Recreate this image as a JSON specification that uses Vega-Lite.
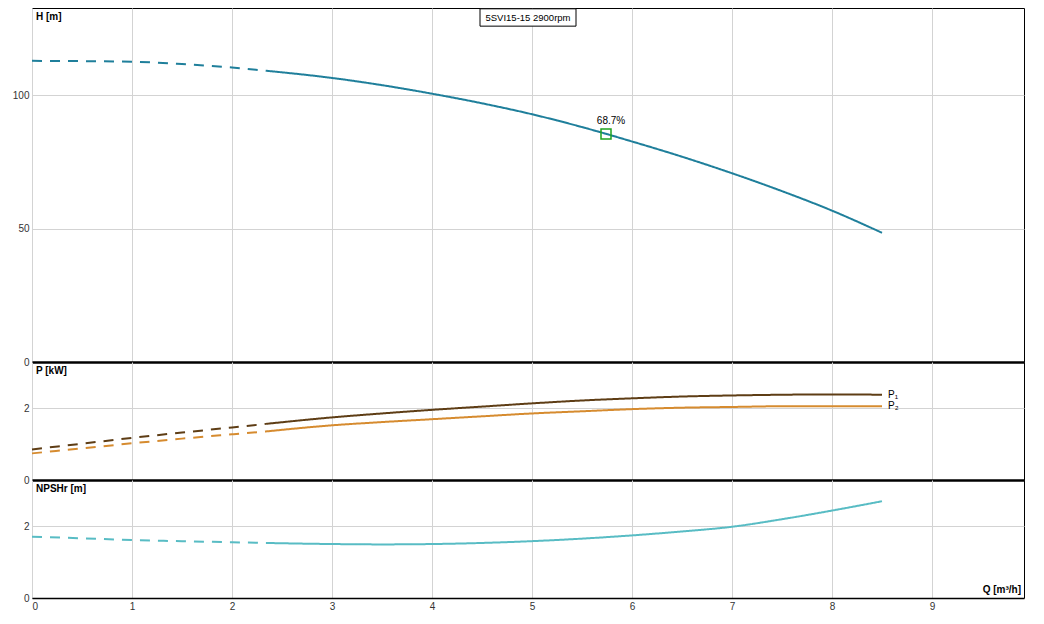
{
  "$schema": "https://vega.github.io/schema/vega-lite/v6.json",
  "padding": {"left": 0, "top": 7, "right": 0, "bottom": 0},
  "background": "white",
  "spacing": 0,
  "bounds": "flush",
  "config": {
    "view": {"stroke": "black", "strokeWidth": 1},
    "axis": {
      "gridColor": "#d3d3d3",
      "gridWidth": 1,
      "labelFont": "Liberation Sans",
      "labelFontSize": 10,
      "labelColor": "#333333",
      "ticks": false,
      "title": null
    },
    "text": {"font": "Liberation Sans", "fontSize": 10, "color": "black"}
  },
  "datasets": {
    "head": [
      {"Q": 0, "H": 112.8, "seg": "dashed"},
      {"Q": 0.5, "H": 112.7, "seg": "dashed"},
      {"Q": 1, "H": 112.5, "seg": "dashed"},
      {"Q": 1.5, "H": 111.6, "seg": "dashed"},
      {"Q": 2, "H": 110.3, "seg": "dashed"},
      {"Q": 2.34, "H": 109.1, "seg": "dashed"},
      {"Q": 2.34, "H": 109.1, "seg": "solid"},
      {"Q": 3, "H": 106.4, "seg": "solid"},
      {"Q": 3.5, "H": 103.7, "seg": "solid"},
      {"Q": 4, "H": 100.5, "seg": "solid"},
      {"Q": 4.5, "H": 96.9, "seg": "solid"},
      {"Q": 5, "H": 92.8, "seg": "solid"},
      {"Q": 5.5, "H": 88.0, "seg": "solid"},
      {"Q": 6, "H": 82.6, "seg": "solid"},
      {"Q": 6.5, "H": 76.9, "seg": "solid"},
      {"Q": 7, "H": 70.7, "seg": "solid"},
      {"Q": 7.5, "H": 64.0, "seg": "solid"},
      {"Q": 8, "H": 56.7, "seg": "solid"},
      {"Q": 8.5, "H": 48.4, "seg": "solid"}
    ],
    "power": [
      {"Q": 0, "P": 0.85, "series": "P1", "seg": "dashed"},
      {"Q": 0.5, "P": 1.01, "series": "P1", "seg": "dashed"},
      {"Q": 1, "P": 1.17, "series": "P1", "seg": "dashed"},
      {"Q": 1.5, "P": 1.32, "series": "P1", "seg": "dashed"},
      {"Q": 2, "P": 1.46, "series": "P1", "seg": "dashed"},
      {"Q": 2.34, "P": 1.56, "series": "P1", "seg": "dashed"},
      {"Q": 2.34, "P": 1.56, "series": "P1", "seg": "solid"},
      {"Q": 3, "P": 1.74, "series": "P1", "seg": "solid"},
      {"Q": 3.5, "P": 1.85, "series": "P1", "seg": "solid"},
      {"Q": 4, "P": 1.95, "series": "P1", "seg": "solid"},
      {"Q": 4.5, "P": 2.04, "series": "P1", "seg": "solid"},
      {"Q": 5, "P": 2.13, "series": "P1", "seg": "solid"},
      {"Q": 5.5, "P": 2.21, "series": "P1", "seg": "solid"},
      {"Q": 6, "P": 2.27, "series": "P1", "seg": "solid"},
      {"Q": 6.5, "P": 2.32, "series": "P1", "seg": "solid"},
      {"Q": 7, "P": 2.35, "series": "P1", "seg": "solid"},
      {"Q": 7.5, "P": 2.37, "series": "P1", "seg": "solid"},
      {"Q": 8, "P": 2.38, "series": "P1", "seg": "solid"},
      {"Q": 8.5, "P": 2.37, "series": "P1", "seg": "solid"},
      {"Q": 0, "P": 0.74, "series": "P2", "seg": "dashed"},
      {"Q": 0.5, "P": 0.88, "series": "P2", "seg": "dashed"},
      {"Q": 1, "P": 1.02, "series": "P2", "seg": "dashed"},
      {"Q": 1.5, "P": 1.15, "series": "P2", "seg": "dashed"},
      {"Q": 2, "P": 1.27, "series": "P2", "seg": "dashed"},
      {"Q": 2.34, "P": 1.35, "series": "P2", "seg": "dashed"},
      {"Q": 2.34, "P": 1.35, "series": "P2", "seg": "solid"},
      {"Q": 3, "P": 1.52, "series": "P2", "seg": "solid"},
      {"Q": 3.5, "P": 1.61, "series": "P2", "seg": "solid"},
      {"Q": 4, "P": 1.69, "series": "P2", "seg": "solid"},
      {"Q": 4.5, "P": 1.77, "series": "P2", "seg": "solid"},
      {"Q": 5, "P": 1.85, "series": "P2", "seg": "solid"},
      {"Q": 5.5, "P": 1.91, "series": "P2", "seg": "solid"},
      {"Q": 6, "P": 1.97, "series": "P2", "seg": "solid"},
      {"Q": 6.5, "P": 2.01, "series": "P2", "seg": "solid"},
      {"Q": 7, "P": 2.03, "series": "P2", "seg": "solid"},
      {"Q": 7.5, "P": 2.05, "series": "P2", "seg": "solid"},
      {"Q": 8, "P": 2.05, "series": "P2", "seg": "solid"},
      {"Q": 8.5, "P": 2.05, "series": "P2", "seg": "solid"}
    ],
    "npsh": [
      {"Q": 0, "N": 1.70, "seg": "dashed"},
      {"Q": 0.5, "N": 1.66, "seg": "dashed"},
      {"Q": 1, "N": 1.61, "seg": "dashed"},
      {"Q": 1.5, "N": 1.58, "seg": "dashed"},
      {"Q": 2, "N": 1.55, "seg": "dashed"},
      {"Q": 2.34, "N": 1.53, "seg": "dashed"},
      {"Q": 2.34, "N": 1.53, "seg": "solid"},
      {"Q": 3, "N": 1.50, "seg": "solid"},
      {"Q": 3.5, "N": 1.49, "seg": "solid"},
      {"Q": 4, "N": 1.50, "seg": "solid"},
      {"Q": 4.5, "N": 1.53, "seg": "solid"},
      {"Q": 5, "N": 1.58, "seg": "solid"},
      {"Q": 5.5, "N": 1.65, "seg": "solid"},
      {"Q": 6, "N": 1.74, "seg": "solid"},
      {"Q": 6.5, "N": 1.85, "seg": "solid"},
      {"Q": 7, "N": 1.98, "seg": "solid"},
      {"Q": 7.5, "N": 2.19, "seg": "solid"},
      {"Q": 8, "N": 2.43, "seg": "solid"},
      {"Q": 8.5, "N": 2.69, "seg": "solid"}
    ],
    "bep": [{"Q": 5.74, "H": 85.4, "eff": "68.7%"}],
    "plabels": [
      {"Q": 8.5, "P": 2.37, "label": "P₁"},
      {"Q": 8.5, "P": 2.05, "label": "P₂"}
    ],
    "hTitle": [{"label": "H [m]"}],
    "pTitle": [{"label": "P [kW]"}],
    "nTitle": [{"label": "NPSHr [m]"}],
    "qTitle": [{"label": "Q [m³/h]"}],
    "pump": [{"label": "5SVI15-15 2900rpm"}]
  },
  "vconcat": [
    {
      "width": 992,
      "height": 354,
      "layer": [
        {
          "data": {"name": "head"},
          "mark": {"type": "line", "strokeWidth": 2, "color": "#1f7f9b", "interpolate": "monotone"},
          "encoding": {
            "x": {
              "field": "Q",
              "type": "quantitative",
              "scale": {"domain": [0, 9.92], "nice": false, "zero": false},
              "axis": {"values": [0, 1, 2, 3, 4, 5, 6, 7, 8, 9], "labels": false, "domain": true, "domainColor": "black", "domainWidth": 2.5}
            },
            "y": {
              "field": "H",
              "type": "quantitative",
              "scale": {"domain": [0, 132.6], "nice": false},
              "axis": {"values": [0, 50, 100], "domain": false, "labelPadding": 3, "minExtent": 31, "maxExtent": 31}
            },
            "strokeDash": {
              "field": "seg",
              "type": "nominal",
              "scale": {"domain": ["dashed", "solid"], "range": [[10, 8], [1, 0]]},
              "legend": null
            }
          }
        },
        {
          "data": {"name": "bep"},
          "mark": {"type": "point", "shape": "square", "size": 100, "filled": false, "color": "#1fa21f", "strokeWidth": 1.5, "opacity": 1},
          "encoding": {"x": {"field": "Q", "type": "quantitative"}, "y": {"field": "H", "type": "quantitative"}}
        },
        {
          "data": {"name": "bep"},
          "mark": {"type": "text", "dx": 5, "dy": -8, "baseline": "bottom", "align": "center"},
          "encoding": {"x": {"field": "Q", "type": "quantitative"}, "y": {"field": "H", "type": "quantitative"}, "text": {"field": "eff"}}
        },
        {
          "data": {"name": "hTitle"},
          "mark": {"type": "text", "align": "left", "baseline": "top", "dx": 4, "dy": 4, "fontWeight": "bold"},
          "encoding": {"x": {"datum": 0}, "y": {"datum": 132.6}, "text": {"field": "label"}}
        },
        {
          "data": {"name": "pump"},
          "mark": {"type": "rect", "fill": "white", "stroke": "black", "strokeWidth": 1},
          "encoding": {"x": {"datum": 4.48}, "x2": {"datum": 5.44}, "y": {"datum": 132.3}, "y2": {"datum": 125.8}}
        },
        {
          "data": {"name": "pump"},
          "mark": {"type": "text", "align": "center", "baseline": "middle", "fontSize": 9.5},
          "encoding": {"x": {"datum": 4.96}, "y": {"datum": 129.0}, "text": {"field": "label"}}
        }
      ]
    },
    {
      "width": 992,
      "height": 118,
      "layer": [
        {
          "data": {"name": "power"},
          "mark": {"type": "line", "strokeWidth": 2, "interpolate": "monotone"},
          "encoding": {
            "x": {
              "field": "Q",
              "type": "quantitative",
              "scale": {"domain": [0, 9.92], "nice": false, "zero": false},
              "axis": {"values": [0, 1, 2, 3, 4, 5, 6, 7, 8, 9], "labels": false, "domain": true, "domainColor": "black", "domainWidth": 2.5}
            },
            "y": {
              "field": "P",
              "type": "quantitative",
              "scale": {"domain": [0, 3.28], "nice": false},
              "axis": {"values": [0, 2], "domain": false, "labelPadding": 3, "minExtent": 31, "maxExtent": 31}
            },
            "color": {
              "field": "series",
              "type": "nominal",
              "scale": {"domain": ["P1", "P2"], "range": ["#5e3d15", "#d68b2f"]},
              "legend": null
            },
            "strokeDash": {
              "field": "seg",
              "type": "nominal",
              "scale": {"domain": ["dashed", "solid"], "range": [[10, 8], [1, 0]]},
              "legend": null
            }
          }
        },
        {
          "data": {"name": "plabels"},
          "mark": {"type": "text", "align": "left", "baseline": "middle", "dx": 6},
          "encoding": {"x": {"field": "Q", "type": "quantitative"}, "y": {"field": "P", "type": "quantitative"}, "text": {"field": "label"}}
        },
        {
          "data": {"name": "pTitle"},
          "mark": {"type": "text", "align": "left", "baseline": "top", "dx": 4, "dy": 4, "fontWeight": "bold"},
          "encoding": {"x": {"datum": 0}, "y": {"datum": 3.28}, "text": {"field": "label"}}
        }
      ]
    },
    {
      "width": 992,
      "height": 118,
      "layer": [
        {
          "data": {"name": "npsh"},
          "mark": {"type": "line", "strokeWidth": 2, "color": "#58bcc4", "interpolate": "monotone"},
          "encoding": {
            "x": {
              "field": "Q",
              "type": "quantitative",
              "scale": {"domain": [0, 9.92], "nice": false, "zero": false},
              "axis": {"values": [0, 1, 2, 3, 4, 5, 6, 7, 8, 9], "format": "d", "labelPadding": 3, "domain": true, "domainColor": "black", "domainWidth": 1.5}
            },
            "y": {
              "field": "N",
              "type": "quantitative",
              "scale": {"domain": [0, 3.28], "nice": false},
              "axis": {"values": [0, 2], "domain": false, "labelPadding": 3, "minExtent": 31, "maxExtent": 31}
            },
            "strokeDash": {
              "field": "seg",
              "type": "nominal",
              "scale": {"domain": ["dashed", "solid"], "range": [[10, 8], [1, 0]]},
              "legend": null
            }
          }
        },
        {
          "data": {"name": "nTitle"},
          "mark": {"type": "text", "align": "left", "baseline": "top", "dx": 4, "dy": 4, "fontWeight": "bold"},
          "encoding": {"x": {"datum": 0}, "y": {"datum": 3.28}, "text": {"field": "label"}}
        },
        {
          "data": {"name": "qTitle"},
          "mark": {"type": "text", "align": "right", "baseline": "bottom", "dx": -3, "dy": -3, "fontWeight": "bold"},
          "encoding": {"x": {"datum": 9.92}, "y": {"datum": 0}, "text": {"field": "label"}}
        }
      ]
    }
  ]
}
